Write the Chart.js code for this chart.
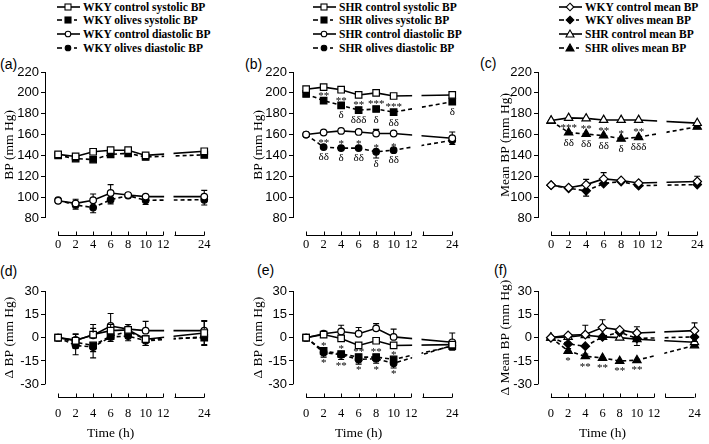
<!DOCTYPE html>
<html lang="en">
<head>
<meta charset="UTF-8">
<title>Blood pressure time course</title>
<script src="https://cdn.jsdelivr.net/npm/chart.js"></script>
<style>
  body { margin: 0; width: 709px; height: 444px; background: #fff; position: relative; overflow: hidden; }
  .panel { position: absolute; }
  .tag { position: absolute; font: 14px "Liberation Sans", Arial, sans-serif; color: #000; }
  .legend { position: absolute; font: bold 11.5px "Liberation Serif", "Times New Roman", serif; color: #000; }
  .legend div { display: flex; align-items: center; height: 13.6px; white-space: nowrap; }
  .legend svg { margin-right: 3px; }
</style>
</head>
<body>
<div class="legend" id="legA" style="left:57px; top:0px"></div>
<div class="legend" id="legB" style="left:313px; top:0px"></div>
<div class="legend" id="legC" style="left:559px; top:0px"></div>

<div class="tag" style="left:0px; top:56px">(a)</div>
<div class="tag" style="left:245px; top:56px">(b)</div>
<div class="tag" style="left:480px; top:55px">(c)</div>
<div class="tag" style="left:0px; top:263px">(d)</div>
<div class="tag" style="left:257px; top:262px">(e)</div>
<div class="tag" style="left:494px; top:262px">(f)</div>

<canvas class="panel" id="pa" width="220" height="200" style="left:0px; top:60px"></canvas>
<canvas class="panel" id="pb" width="220" height="200" style="left:248px; top:60px"></canvas>
<canvas class="panel" id="pc" width="216" height="200" style="left:493px; top:60px"></canvas>
<canvas class="panel" id="pd" width="220" height="164" style="left:0px; top:280px"></canvas>
<canvas class="panel" id="pe" width="220" height="164" style="left:248px; top:280px"></canvas>
<canvas class="panel" id="pf" width="216" height="164" style="left:493px; top:280px"></canvas>

<script>
// time points (h) and axis ticks
const hours = [0, 2, 4, 6, 8, 10, 24];
const xTickHours = [0, 2, 4, 6, 8, 10, 12, 24];
const bpTicks = [80, 100, 120, 140, 160, 180, 200, 220];
const deltaTicks = [-30, -15, 0, 15, 30];

// (a) WKY BP, mm Hg
const wkySysCtl = [141, 139, 143.5, 145, 145, 140, 144];
const wkySysCtlErr = [3, 2, 2, 2, 3, 2, 3];
const wkySysOli = [140, 137, 136, 141, 142, 138.5, 140.5];
const wkySysOliErr = [2, 2, 4, 2, 2, 2, 2];
const wkyDiaCtl = [96.5, 94, 97, 104, 102, 100.5, 100.5];
const wkyDiaCtlErr = [2, 4, 6, 8, 3, 2, 6];
const wkyDiaOli = [97, 92.5, 90, 97.5, 101.5, 97, 97.5];
const wkyDiaOliErr = [2, 4, 5, 4, 3, 4, 5];

// (b) SHR BP, mm Hg
const shrSysCtl = [203.5, 205.5, 203, 198, 200, 197, 198];
const shrSysCtlErr = [1, 1, 1, 1, 1, 1, 1];
const shrSysOli = [199, 192.5, 188, 183.5, 184.5, 181.5, 191.5];
const shrSysOliErr = [2, 3, 3, 3, 4, 4, 3];
const shrDiaCtl = [160, 162, 163.5, 162.5, 161, 161, 156.5];
const shrDiaCtlErr = [1, 2, 3, 2, 4, 3, 6];
const shrDiaOli = [160, 148, 147, 147, 143.5, 145, 154.5];
const shrDiaOliErr = [1, 3, 3, 3, 6, 3, 4];
const shrSysOliAbove = ['', '**', '**', '**', '***', '***', ''];
const shrSysOliBelow = ['', '', 'δ', 'δδδ', 'δ', 'δδ', 'δ'];
const shrDiaOliAbove = ['', '**', '*', '*', '*', '*', ''];
const shrDiaOliBelow = ['', 'δδ', 'δ', 'δδ', 'δ', 'δδ', ''];

// (c) mean BP, mm Hg
const wkyMeanCtl = [111.5, 109, 112, 117.5, 116, 113.5, 115];
const wkyMeanCtlErr = [1, 1, 5, 6, 2, 2, 5];
const wkyMeanOli = [111.5, 108.5, 106, 113, 115, 111, 112];
const wkyMeanOliErr = [1, 1, 5, 2, 3, 4, 4];
const shrMeanCtl = [173.5, 176, 175.5, 174, 174, 174, 171];
const shrMeanCtlErr = [1, 1, 1, 1, 4, 1, 4];
const shrMeanOli = [173, 162, 160.5, 159, 156, 157.5, 167.5];
const shrMeanOliErr = [1, 2, 2, 2, 4, 2, 2];
const shrMeanOliAbove = ['', '***', '**', '**', '*', '**', ''];
const shrMeanOliBelow = ['', 'δδ', 'δδ', 'δδ', 'δ', 'δδδ', ''];

// (d) WKY change in BP, mm Hg
const dWkySysCtl = [0, -2, 2, 4.5, 5, -1, 3];
const dWkySysCtlErr = [1, 4, 4, 4, 3, 3, 8];
const dWkySysOli = [0, -3, -5, 1, 4, -1, 0];
const dWkySysOliErr = [1, 4, 4, 3, 3, 4, 5];
const dWkyDiaCtl = [0, -1.5, 1.5, 7.5, 5.5, 4.5, 4.5];
const dWkyDiaCtlErr = [1, 4, 7, 8, 3, 6, 6];
const dWkyDiaOli = [0, -5, -6, 0.5, 1, -2, 0.5];
const dWkyDiaOliErr = [1, 6, 7, 3, 3, 3, 5];

// (e) SHR change in BP, mm Hg
const dShrSysCtl = [0, 2, -0.5, -5, -2, -5, -4.5];
const dShrSysCtlErr = [1, 2, 2, 2, 2, 2, 3];
const dShrSysOli = [0, -8.5, -10.5, -12.5, -12.5, -14, -5.5];
const dShrSysOliErr = [1, 3, 3, 3, 3, 3, 3];
const dShrDiaCtl = [0, 2.5, 4, 2.5, 6, 0.5, -3];
const dShrDiaCtlErr = [1, 2, 4, 4, 3, 5, 6];
const dShrDiaOli = [0, -9.5, -11, -14, -13.5, -16.5, -5];
const dShrDiaOliErr = [1, 3, 3, 3, 3, 3, 3];
const dShrSysOliAbove = ['', '*', '*', '**', '**', '*', ''];
const dShrDiaOliBelow = ['', '*', '**', '*', '*', '*', ''];

// (f) change in mean BP, mm Hg
const dWkyMeanCtl = [0, 1.5, 2, 6.5, 5, 3, 4.5];
const dWkyMeanCtlErr = [1, 2, 6, 5, 2, 4, 5];
const dWkyMeanOli = [0, -4, -5.5, 0.5, 3.5, -0.5, 0.5];
const dWkyMeanOliErr = [1, 3, 5, 2, 2, 2, 3];
const dShrMeanCtl = [0, 0.5, 1.5, 0.5, 0, -1, -3];
const dShrMeanCtlErr = [1, 2, 3, 2, 2, 4, 3];
const dShrMeanOli = [0, -8.5, -12, -13, -15, -14.5, -5];
const dShrMeanOliErr = [1, 2, 3, 2, 2, 2, 3];
const dShrMeanOliBelow = ['', '*', '**', '**', '**', '**', ''];

// broken time axis: 0-12 h, gap, then a short piece ending at 24 h
const BREAK_FROM = 12, BREAK_TO = 13.3, POS24 = 16.7;
function xPos(h) { return h <= 12 ? h : POS24 - (24 - h); }

const radii = { rect: 4.6, circle: 3.3, rectRot: 4.3, triangle: 4.8 };

function series(label, vals, err, marker, open, dir, above, below) {
    return {
        label: label,
        data: vals.map((v, i) => ({ x: xPos(hours[i]), y: v })),
        err: err, dir: dir, above: above, below: below,
        open: open, marker: marker,
        borderColor: '#000', borderWidth: 1.6,
        borderDash: open ? [] : [4, 3],
        pointStyle: marker, pointRadius: radii[marker],
        pointBackgroundColor: open ? '#fff' : '#000',
        pointBorderColor: '#000', pointBorderWidth: 1.2,
        tension: 0, fill: false
    };
}

// error bars, significance marks, axis lines and titles
const bpDecor = {
    id: 'bpDecor',
    afterDatasetsDraw(chart, args, opts) {
        const ctx = chart.ctx, a = chart.chartArea, x = chart.scales.x, y = chart.scales.y;
        ctx.save();

        // hide the lines inside the axis break
        const g0 = x.getPixelForValue(BREAK_FROM) + 1, g1 = x.getPixelForValue(BREAK_TO) - 1;
        ctx.fillStyle = '#fff';
        ctx.fillRect(g0, a.top - 4, g1 - g0, a.bottom - a.top + 2);

        ctx.strokeStyle = '#000';
        ctx.fillStyle = '#000';
        ctx.lineWidth = 1.1;
        ctx.textAlign = 'center';
        ctx.font = '11px "Liberation Serif", serif';
        chart.data.datasets.forEach((d, i) => {
            const meta = chart.getDatasetMeta(i);
            meta.data.forEach((pt, j) => {
                const r = d.pointRadius * 0.8;
                const ey = y.getPixelForValue(d.data[j].y + d.dir * d.err[j]);
                const len = Math.abs(ey - pt.y);
                if (len > r + 1) {
                    ctx.beginPath();
                    ctx.moveTo(pt.x, pt.y - d.dir * r);
                    ctx.lineTo(pt.x, ey);
                    ctx.moveTo(pt.x - 3, ey);
                    ctx.lineTo(pt.x + 3, ey);
                    ctx.stroke();
                }
                if (d.above && d.above[j]) {
                    const top = d.dir > 0 ? Math.max(r, len) : r;
                    ctx.textBaseline = 'alphabetic';
                    ctx.fillText(d.above[j], pt.x, pt.y - top + 2);
                }
                if (d.below && d.below[j]) {
                    const bot = d.dir < 0 ? Math.max(r, len) : r;
                    ctx.textBaseline = 'top';
                    ctx.fillText(d.below[j], pt.x, pt.y + bot + 1);
                }
            });
        });

        // y axis line
        ctx.lineWidth = 1;
        const yl = Math.round(a.left) + 0.5;
        ctx.beginPath();
        ctx.moveTo(yl, y.getPixelForValue(opts.yFrom));
        ctx.lineTo(yl, y.getPixelForValue(opts.yTo));
        ctx.stroke();

        // broken x axis with upward ticks
        const xb = Math.round(a.bottom) - 0.5;
        ctx.beginPath();
        [[0, BREAK_FROM], [BREAK_TO, POS24]].forEach(seg => {
            ctx.moveTo(x.getPixelForValue(seg[0]), xb);
            ctx.lineTo(x.getPixelForValue(seg[1]), xb);
        });
        xTickHours.map(xPos).concat([BREAK_TO]).forEach(v => {
            const px = Math.round(x.getPixelForValue(v)) + 0.5;
            ctx.moveTo(px, xb);
            ctx.lineTo(px, xb - 4);
        });
        ctx.stroke();

        // axis titles
        ctx.font = '13.5px "Liberation Serif", serif';
        ctx.textBaseline = 'middle';
        const ym = (y.getPixelForValue(opts.yFrom) + y.getPixelForValue(opts.yTo)) / 2;
        ctx.save();
        ctx.translate(opts.titleX, ym);
        ctx.rotate(-Math.PI / 2);
        ctx.fillText(opts.yTitle, 0, 0);
        ctx.restore();
        if (opts.xTitle) {
            ctx.fillText(opts.xTitle, x.getPixelForValue(6), chart.height - 11);
        }
        ctx.restore();
    }
};

function makePanel(id, datasets, o) {
    const low = o.delta;
    new Chart(document.getElementById(id), {
        type: 'line',
        data: { datasets: datasets },
        plugins: [bpDecor],
        options: {
            responsive: false,
            animation: false,
            events: [],
            layout: { padding: { top: low ? 11 : 12, right: o.padRight, left: 0, bottom: 0 } },
            plugins: {
                legend: { display: false },
                tooltip: { enabled: false },
                bpDecor: {
                    yFrom: o.ticks[0], yTo: o.ticks[o.ticks.length - 1],
                    yTitle: o.yTitle, xTitle: low ? 'Time (h)' : '', titleX: o.titleX
                }
            },
            scales: {
                x: {
                    type: 'linear', min: -1.5, max: 17.3,
                    afterBuildTicks: s => { s.ticks = xTickHours.map(h => ({ value: xPos(h) })); },
                    afterFit: s => { s.height = low ? 46 : 24.5; },
                    grid: { display: false, drawTicks: false },
                    border: { display: false },
                    ticks: {
                        autoSkip: false, maxRotation: 0, padding: low ? 8 : 2,
                        color: '#000', font: { family: 'Liberation Serif', size: 12.5 },
                        callback: (v, i) => String(xTickHours[i])
                    }
                },
                y: {
                    min: o.min, max: o.ticks[o.ticks.length - 1],
                    afterBuildTicks: s => { s.ticks = o.ticks.map(v => ({ value: v })); },
                    afterFit: s => { s.width = 45; },
                    grid: { display: true, drawOnChartArea: false, drawTicks: true, tickLength: 4, color: '#000', lineWidth: 1 },
                    border: { display: false },
                    ticks: { padding: 2, color: '#000', font: { family: 'Liberation Sans', size: 13 } }
                }
            }
        }
    });
}

const dsA = [
    series('WKY control systolic BP', wkySysCtl, wkySysCtlErr, 'rect', true, 1),
    series('WKY olives systolic BP', wkySysOli, wkySysOliErr, 'rect', false, -1),
    series('WKY control diastolic BP', wkyDiaCtl, wkyDiaCtlErr, 'circle', true, 1),
    series('WKY olives diastolic BP', wkyDiaOli, wkyDiaOliErr, 'circle', false, -1)
];
const dsB = [
    series('SHR control systolic BP', shrSysCtl, shrSysCtlErr, 'rect', true, 1),
    series('SHR olives systolic BP', shrSysOli, shrSysOliErr, 'rect', false, -1, shrSysOliAbove, shrSysOliBelow),
    series('SHR control diastolic BP', shrDiaCtl, shrDiaCtlErr, 'circle', true, 1),
    series('SHR olives diastolic BP', shrDiaOli, shrDiaOliErr, 'circle', false, -1, shrDiaOliAbove, shrDiaOliBelow)
];
const dsC = [
    series('WKY control mean BP', wkyMeanCtl, wkyMeanCtlErr, 'rectRot', true, 1),
    series('WKY olives mean BP', wkyMeanOli, wkyMeanOliErr, 'rectRot', false, -1),
    series('SHR control mean BP', shrMeanCtl, shrMeanCtlErr, 'triangle', true, 1),
    series('SHR olives mean BP', shrMeanOli, shrMeanOliErr, 'triangle', false, -1, shrMeanOliAbove, shrMeanOliBelow)
];
const dsD = [
    series('WKY control systolic BP', dWkySysCtl, dWkySysCtlErr, 'rect', true, 1),
    series('WKY olives systolic BP', dWkySysOli, dWkySysOliErr, 'rect', false, -1),
    series('WKY control diastolic BP', dWkyDiaCtl, dWkyDiaCtlErr, 'circle', true, 1),
    series('WKY olives diastolic BP', dWkyDiaOli, dWkyDiaOliErr, 'circle', false, -1)
];
const dsE = [
    series('SHR control systolic BP', dShrSysCtl, dShrSysCtlErr, 'rect', true, 1),
    series('SHR olives systolic BP', dShrSysOli, dShrSysOliErr, 'rect', false, -1, dShrSysOliAbove),
    series('SHR control diastolic BP', dShrDiaCtl, dShrDiaCtlErr, 'circle', true, 1),
    series('SHR olives diastolic BP', dShrDiaOli, dShrDiaOliErr, 'circle', false, -1, null, dShrDiaOliBelow)
];
const dsF = [
    series('WKY control mean BP', dWkyMeanCtl, dWkyMeanCtlErr, 'rectRot', true, 1),
    series('WKY olives mean BP', dWkyMeanOli, dWkyMeanOliErr, 'rectRot', false, -1),
    series('SHR control mean BP', dShrMeanCtl, dShrMeanCtlErr, 'triangle', true, -1),
    series('SHR olives mean BP', dShrMeanOli, dShrMeanOliErr, 'triangle', false, -1, null, dShrMeanOliBelow)
];

makePanel('pa', dsA, { ticks: bpTicks, min: 63.2, yTitle: 'BP (mm Hg)', titleX: 9, padRight: 10.5 });
makePanel('pb', dsB, { ticks: bpTicks, min: 63.2, yTitle: 'BP (mm Hg)', titleX: 10, padRight: 10.5 });
makePanel('pc', dsC, { ticks: bpTicks, min: 63.2, yTitle: 'Mean BP (mm Hg)', titleX: 12, padRight: 6.5 });
makePanel('pd', dsD, { ticks: deltaTicks, min: -38.8, yTitle: 'Δ BP (mm Hg)', titleX: 9, padRight: 10.5, delta: true });
makePanel('pe', dsE, { ticks: deltaTicks, min: -38.8, yTitle: 'Δ BP (mm Hg)', titleX: 10, padRight: 10.5, delta: true });
makePanel('pf', dsF, { ticks: deltaTicks, min: -38.8, yTitle: 'Δ Mean BP (mm Hg)', titleX: 12, padRight: 6.5, delta: true });

// legends above the top row, built from the same dataset styles
function markerSvg(d) {
    const fill = d.open ? '#fff' : '#000';
    const cx = 11, cy = 5;
    let m;
    if (d.marker === 'rect') m = `<rect x="${cx - 3}" y="${cy - 3}" width="6" height="6" fill="${fill}" stroke="#000" stroke-width="1.1"/>`;
    else if (d.marker === 'circle') m = `<circle cx="${cx}" cy="${cy}" r="2.8" fill="${fill}" stroke="#000" stroke-width="1.1"/>`;
    else if (d.marker === 'rectRot') m = `<polygon points="${cx},${cy - 3.8} ${cx + 3.8},${cy} ${cx},${cy + 3.8} ${cx - 3.8},${cy}" fill="${fill}" stroke="#000" stroke-width="1.1"/>`;
    else m = `<polygon points="${cx},${cy - 4} ${cx + 4},${cy + 3} ${cx - 4},${cy + 3}" fill="${fill}" stroke="#000" stroke-width="1.1"/>`;
    const line = d.open
        ? '<line x1="0" y1="5" x2="23" y2="5" stroke="#000" stroke-width="1.6"/>'
        : '<line x1="0" y1="5" x2="5" y2="5" stroke="#000" stroke-width="1.6"/><line x1="17" y1="5" x2="20" y2="5" stroke="#000" stroke-width="1.6"/>';
    return `<svg width="23" height="10" viewBox="0 0 23 10">${line}${m}</svg>`;
}
[['legA', dsA], ['legB', dsB], ['legC', dsC]].forEach(([id, list]) => {
    const box = document.getElementById(id);
    list.forEach(d => {
        const row = document.createElement('div');
        row.innerHTML = markerSvg(d);
        row.appendChild(document.createTextNode(d.label));
        box.appendChild(row);
    });
});
</script>
</body>
</html>
